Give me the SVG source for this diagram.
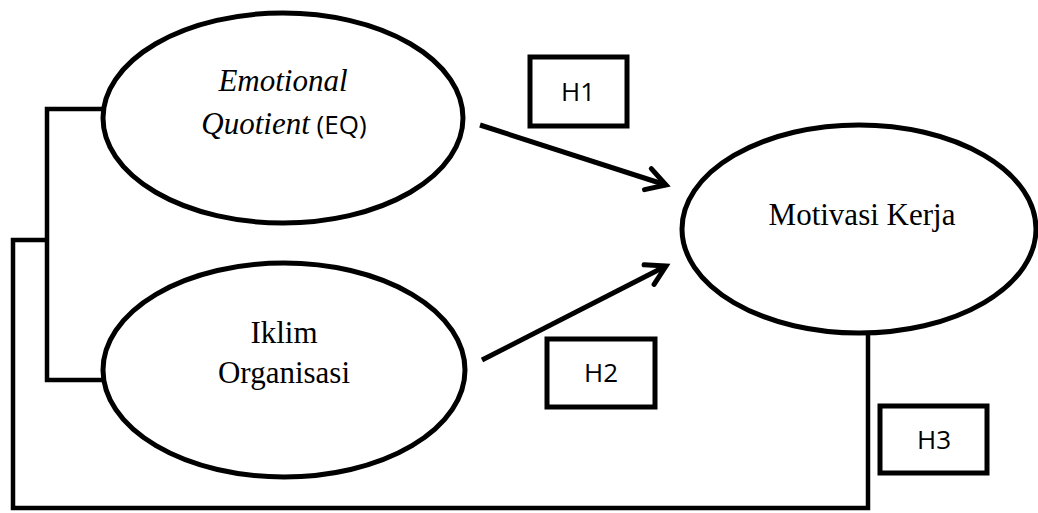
<svg xmlns="http://www.w3.org/2000/svg" width="1038" height="513" viewBox="0 0 1038 513">
<defs>
<style>
.node{fill:#fff;stroke:#000;stroke-width:5}
.box{fill:#fff;stroke:#000;stroke-width:5}
.serif{font-family:"Liberation Serif","Times New Roman",serif;font-size:31px;fill:#000}
.sans{font-family:"Open Sans","Liberation Sans",sans-serif;font-size:26px;fill:#000}
.conn{fill:none;stroke:#000;stroke-width:4.5;stroke-linejoin:miter}
.arrow{fill:none;stroke:#000;stroke-width:5;marker-end:url(#head)}
</style>
<marker id="head" markerUnits="userSpaceOnUse" markerWidth="40" markerHeight="40" refX="0" refY="0" orient="auto" overflow="visible">
<path d="M-19,-11 L0,0 L-19,11" fill="none" stroke="#000" stroke-width="5" stroke-linecap="round" stroke-linejoin="miter"/>
</marker>
</defs>
<rect width="1038" height="513" fill="#fff"/>
<g id="connectors">
<polyline class="conn" points="103,109 47,109 47,380 104,380"/>
<polyline class="conn" points="47,240 13,240 13,508 868,508 868,333"/>
<line class="arrow" x1="480" y1="125" x2="666" y2="185"/>
<line class="arrow" x1="482" y1="360" x2="666" y2="266"/>
</g>
<g id="node-eq">
<ellipse class="node" cx="283" cy="118" rx="180" ry="105"/>
<text class="serif" x="283" y="91" text-anchor="middle" font-style="italic">Emotional</text>
<text class="serif" x="284" y="134" text-anchor="middle"><tspan font-style="italic">Quotient</tspan><tspan class="sans"> (EQ)</tspan></text>
</g>
<g id="node-iklim">
<ellipse class="node" cx="284" cy="370" rx="181" ry="107"/>
<text class="serif" x="284" y="343" text-anchor="middle">Iklim</text>
<text class="serif" x="284" y="383" text-anchor="middle">Organisasi</text>
</g>
<g id="node-motivasi">
<ellipse class="node" cx="859" cy="229" rx="177" ry="104"/>
<text class="serif" x="862" y="225" text-anchor="middle">Motivasi Kerja</text>
</g>
<g id="label-h1">
<rect class="box" x="530" y="57" width="97" height="69"/>
<text class="sans" x="578" y="101" text-anchor="middle">H1</text>
</g>
<g id="label-h2">
<rect class="box" x="547" y="339" width="108" height="68"/>
<text class="sans" x="601" y="382" text-anchor="middle">H2</text>
</g>
<g id="label-h3">
<rect class="box" x="880" y="406" width="107" height="67"/>
<text class="sans" x="934" y="449" text-anchor="middle">H3</text>
</g>
</svg>
